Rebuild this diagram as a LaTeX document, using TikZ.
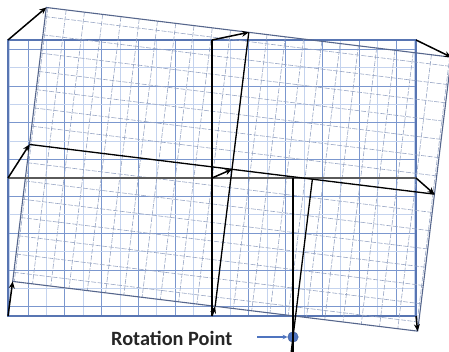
\documentclass[tikz,border=0pt]{standalone}
\usepackage{fontspec}
\newfontfamily\carlito{Carlito}
\usetikzlibrary{arrows.meta}
\definecolor{colgmajor}{HTML}{7B97CE}
\definecolor{colgminor}{HTML}{C4D3EE}
\definecolor{colgframe}{HTML}{5875B2}
\definecolor{colrgrid}{HTML}{98A6C4}
\definecolor{colrframe}{HTML}{56668C}
\definecolor{coldot}{HTML}{4F74BF}
\definecolor{colmid}{HTML}{5A5A5A}
\newcommand\mygridlines[2]{%
  \foreach \k in {-10,-8,...,10} {\draw[#2] ({212+\k*18.4},40) -- ({212+\k*18.4},316);}
  \foreach \k in {-11,-9,...,11} {\draw[#1] ({212+\k*18.4},40) -- ({212+\k*18.4},316);}
  \foreach \k in {-6,-4,...,6} {\draw[#1] (8,{178+\k*18.4}) -- (416,{178+\k*18.4});}
  \foreach \k in {-7,-5,...,7} {\draw[#2] (8,{178+\k*18.4}) -- (416,{178+\k*18.4});}
}
\tikzset{
  ominor/.style={colgminor, line width=0.7pt},
  omajor/.style={colgmajor, line width=0.8pt},
  oframe/.style={colgframe, line width=1.2pt},
  rminor/.style={colrgrid, line width=0.6pt, dash pattern=on 5pt off 1.5pt},
  rotframe/.style={colrframe, line width=1.1pt},
  blackline/.style={black, line width=1.3pt},
  arr/.style={black, line width=1.5pt, -{Stealth[length=7pt,width=6pt]}},
  bluearr/.style={coldot, line width=1.1pt, -{Stealth[length=5pt,width=4.5pt]}},
  lbl/.style={font=\carlito\bfseries\fontsize{20.3}{22}\selectfont, anchor=base west, inner sep=0pt, text=black!85}
}
\begin{document}
\begin{tikzpicture}[x=1pt,y=-1pt]
\useasboundingbox (0,0) rectangle (449,352);
% original grid
\mygridlines{ominor}{omajor}
\draw[oframe] (8,40) rectangle (416,316);
% rotated grid
\begin{scope}[rotate around={-7:(293,337)}]
  \mygridlines{rminor}{rminor}
  \draw[rotframe] (8,40) rectangle (416,316);
  \coordinate (r11) at (8,40);
  \coordinate (r12) at (212,40);
  \coordinate (r13) at (416,40);
  \coordinate (r21) at (8,178);
  \coordinate (r22) at (212,178);
  \coordinate (r23) at (416,178);
  \coordinate (r31) at (8,316);
  \coordinate (r32) at (212,316);
  \coordinate (r33) at (416,316);
  \coordinate (rtop) at (293,178);
  \coordinate (rbot) at (293,352);
\end{scope}
\coordinate (o11) at (8,40);
\coordinate (o12) at (212,40);
\coordinate (o13) at (416,40);
\coordinate (o21) at (8,178);
\coordinate (o22) at (212,178);
\coordinate (o23) at (416,178);
\coordinate (o31) at (8,316);
\coordinate (o32) at (212,316);
\coordinate (o33) at (416,316);
\coordinate (otop) at (293,178);
\coordinate (obot) at (293,352);
% rotation point
\node[circle, fill=coldot, draw=coldot!80!black, line width=0.4pt, minimum size=10.5pt, inner sep=0pt] (rp) at (293,337) {};
% midlines
\draw[colmid, line width=1.8pt] (o21) -- (o23);
\draw[blackline] (o12) -- (o32);
\draw[blackline] (r21) -- (r23);
\draw[blackline] (r12) -- (r32);
\draw[blackline] (otop) -- (obot);
\draw[blackline] (rtop) -- (rbot);
% arrows
\foreach \p in {11,12,13,21,22,23,31,32,33} {\draw[arr] (o\p) -- (r\p);}
% label
\node[lbl] (label) at (111,345) {Rotation Point};
\coordinate (astart) at (257,337);
\draw[bluearr] (astart) -- (rp.west);
\end{tikzpicture}
\end{document}
